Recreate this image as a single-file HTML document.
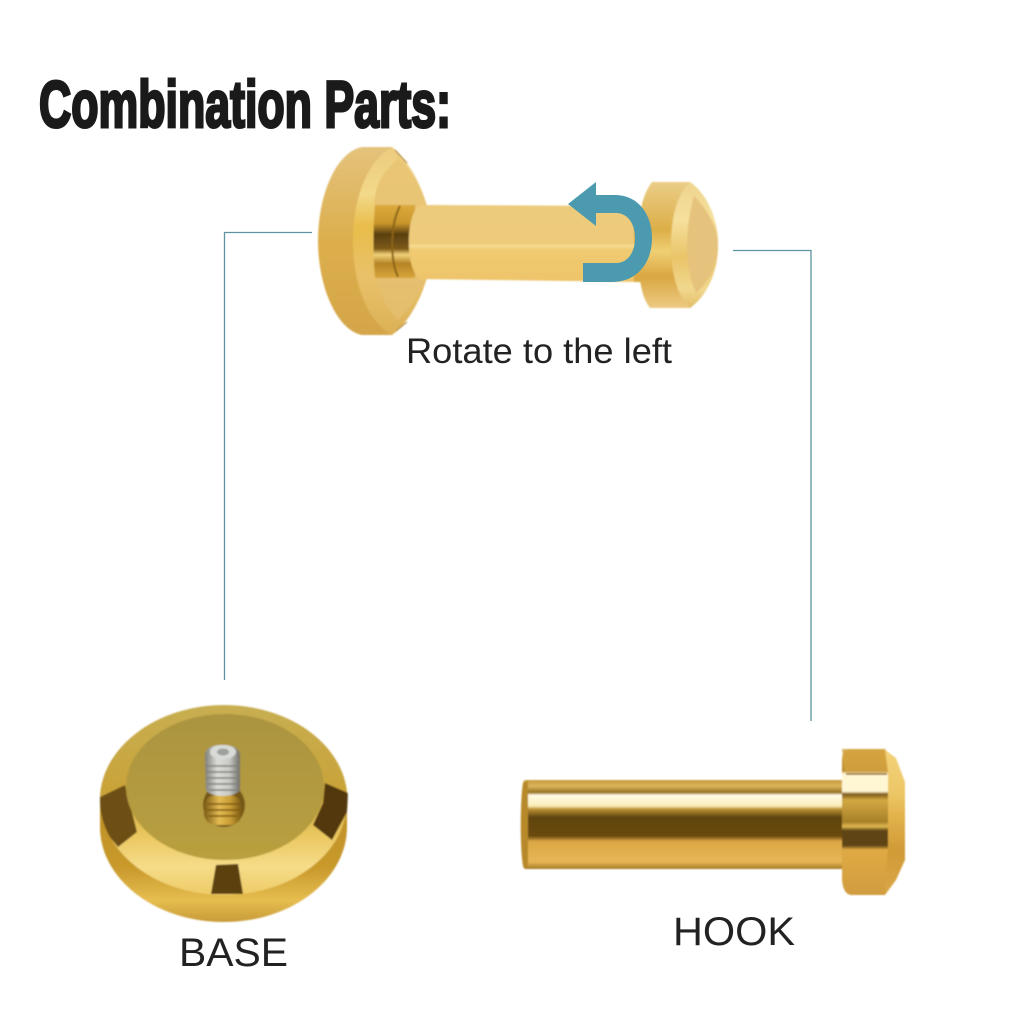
<!DOCTYPE html>
<html><head><meta charset="utf-8"><style>html,body{margin:0;padding:0;background:#fff}svg{display:block}</style></head><body>
<svg xmlns="http://www.w3.org/2000/svg" width="1024" height="1024" viewBox="0 0 1024 1024">
<defs>
<filter id="b1" x="-20%" y="-20%" width="140%" height="140%"><feGaussianBlur stdDeviation="0.8"/></filter>
<filter id="b3" x="-30%" y="-30%" width="160%" height="160%"><feGaussianBlur stdDeviation="3"/></filter>
<linearGradient id="hookShaft" x1="0" y1="0" x2="0" y2="1">
<stop offset="0" stop-color="#c69a3c"/><stop offset=".07" stop-color="#dcb45c"/><stop offset=".14" stop-color="#94701f"/><stop offset=".17" stop-color="#fffbe6"/><stop offset=".29" stop-color="#fbeeb8"/><stop offset=".33" stop-color="#b98f30"/><stop offset=".42" stop-color="#5f4411"/><stop offset=".63" stop-color="#6a4a10"/><stop offset=".69" stop-color="#dca845"/><stop offset=".92" stop-color="#e6b655"/><stop offset="1" stop-color="#a67a26"/>
</linearGradient>
<linearGradient id="hookHead" x1="0" y1="0" x2="0" y2="1">
<stop offset="0" stop-color="#e0b04a"/><stop offset=".15" stop-color="#b9892c"/><stop offset=".17" stop-color="#fff6d4"/><stop offset=".29" stop-color="#fff6d4"/><stop offset=".31" stop-color="#7d5b17"/><stop offset=".35" stop-color="#d3a842"/><stop offset=".5" stop-color="#a67f28"/><stop offset=".53" stop-color="#e0b850"/><stop offset=".56" stop-color="#5e4412"/><stop offset=".66" stop-color="#5e4412"/><stop offset=".69" stop-color="#e0aa44"/><stop offset="1" stop-color="#d09c3e"/>
</linearGradient>
<linearGradient id="hookCap" x1="0" y1="0" x2="0" y2="1">
<stop offset="0" stop-color="#f4d27a"/><stop offset=".3" stop-color="#edc766"/><stop offset=".45" stop-color="#e2b34c"/><stop offset=".7" stop-color="#d09a36"/><stop offset="1" stop-color="#dba748"/>
</linearGradient>
<linearGradient id="topShaft" x1="0" y1="0" x2="0" y2="1">
<stop offset="0" stop-color="#eccb7c"/><stop offset=".5" stop-color="#eecb7a"/><stop offset=".53" stop-color="#f6dc94"/><stop offset=".58" stop-color="#f0ca70"/><stop offset="1" stop-color="#eec46a"/>
</linearGradient>
<linearGradient id="neck" x1="0" y1="0" x2="0" y2="1">
<stop offset="0" stop-color="#dca93c"/><stop offset=".25" stop-color="#c9962c"/><stop offset=".4" stop-color="#5a3f10"/><stop offset=".6" stop-color="#7d5a16"/><stop offset=".68" stop-color="#f2d27c"/><stop offset=".8" stop-color="#b58424"/><stop offset="1" stop-color="#d9a63c"/>
</linearGradient>
<linearGradient id="discBack" x1="0" y1="0" x2="0" y2="1">
<stop offset="0" stop-color="#e4c27c"/><stop offset=".5" stop-color="#dcae4c"/><stop offset="1" stop-color="#d4a548"/>
</linearGradient>
<linearGradient id="discBevel" x1="0" y1="0" x2="0" y2="1">
<stop offset="0" stop-color="#eccb7e"/><stop offset=".25" stop-color="#f3d98a"/><stop offset=".42" stop-color="#e9bd4a"/><stop offset=".7" stop-color="#e8c16a"/><stop offset="1" stop-color="#dcb055"/>
</linearGradient>
<linearGradient id="discFace" x1="0" y1="0" x2="0" y2="1">
<stop offset="0" stop-color="#e9c676"/><stop offset="1" stop-color="#e4bd6c"/>
</linearGradient>
<linearGradient id="headSide" x1="0" y1="0" x2="0" y2="1">
<stop offset="0" stop-color="#eacd86"/><stop offset=".38" stop-color="#dcae48"/><stop offset=".55" stop-color="#efcf74"/><stop offset=".75" stop-color="#d9a741"/><stop offset="1" stop-color="#ecca84"/>
</linearGradient>
<linearGradient id="headBevel" x1="0" y1="0" x2="0" y2="1">
<stop offset="0" stop-color="#eed48e"/><stop offset=".3" stop-color="#f6e09c"/><stop offset=".6" stop-color="#e9c468"/><stop offset=".85" stop-color="#f1d88e"/><stop offset="1" stop-color="#e3bc66"/>
</linearGradient>
<linearGradient id="baseWall" x1="0" y1="0" x2="0" y2="1">
<stop offset="0" stop-color="#a87d1c"/><stop offset=".75" stop-color="#c99a2c"/><stop offset=".9" stop-color="#e6bd50"/><stop offset="1" stop-color="#c79a36"/>
</linearGradient>
<linearGradient id="baseRing" x1="0" y1="0" x2="0" y2="1">
<stop offset="0" stop-color="#c8ae52"/><stop offset=".45" stop-color="#c9a338"/><stop offset=".68" stop-color="#e9c65e"/><stop offset=".85" stop-color="#f6dc88"/><stop offset="1" stop-color="#eecb66"/>
</linearGradient>
<linearGradient id="baseFace" x1="0" y1="0" x2="0" y2="1">
<stop offset="0" stop-color="#ab9440"/><stop offset="1" stop-color="#b99f3e"/>
</linearGradient>
<linearGradient id="screw" x1="0" y1="0" x2="1" y2="0">
<stop offset="0" stop-color="#7e7f7a"/><stop offset=".35" stop-color="#dcdcd8"/><stop offset=".7" stop-color="#c9cac6"/><stop offset="1" stop-color="#6e6e68"/>
</linearGradient>
<linearGradient id="screwGold" x1="0" y1="0" x2="1" y2="0">
<stop offset="0" stop-color="#7a5a14"/><stop offset=".4" stop-color="#e5bb52"/><stop offset=".7" stop-color="#c79b34"/><stop offset="1" stop-color="#75560f"/>
</linearGradient>
<clipPath id="ringClip"><ellipse cx="224" cy="800" rx="124" ry="95"/></clipPath>
</defs>
<rect width="1024" height="1024" fill="#fff"/>

<!-- Title -->
<text x="39" y="127" font-family="'Liberation Sans',sans-serif" font-weight="700" font-size="66" fill="#1a1a1a" stroke="#1a1a1a" stroke-width="3" textLength="412" lengthAdjust="spacingAndGlyphs">Combination Parts:</text>

<!-- Connectors -->
<path d="M312 232.5H224.5V680" fill="none" stroke="#5f939f" stroke-width="1.3"/>
<path d="M733 250.5H811V721" fill="none" stroke="#5f939f" stroke-width="1.3"/>

<!-- Assembled hook: base disc -->
<g filter="url(#b1)">
<path d="M362 147 L392 147 C414 165 432 205 432 241 C432 280 414 318 392 335 L362 335 C336 330 318 285 318 241 C318 195 336 152 362 147Z" fill="url(#discBack)"/>
<path d="M392 147 C414 165 432 205 432 241 C432 280 414 318 392 335 C368 322 353 285 353 241 C353 197 368 160 392 147Z" fill="url(#discBevel)"/>
<path d="M385 172 C372 190 374 205 375 241 C375 285 380 300 398 320 C415 305 432 275 432 241 C432 205 415 170 398 158Z" fill="url(#discFace)"/>
<path d="M395 150 L407 163" stroke="#a87c2c" stroke-width="1"/>
<path d="M396 331 L407 322" stroke="#a87c2c" stroke-width="1"/>
<path d="M375 205 H415 V278 H375 C373 255 373 230 375 205Z" fill="url(#neck)"/>
<path d="M400 206 C390 225 390 260 398 277" stroke="#8a6416" stroke-width="2" fill="none"/>
<!-- shaft -->
<path d="M420 205 L640 206 L640 282 L420 279 C405 270 405 214 420 205Z" fill="url(#topShaft)"/>
<!-- pin neck to head -->
<path d="M634 213 H670 V282 H634Z" fill="#d9aa42"/>
<path d="M634 213 H670 V222 H634Z" fill="#a97e20"/>
<path d="M634 244 H670 V252 H634Z" fill="#f0d27e"/>
<!-- head -->
<path d="M652 182 L690 182 C708 195 718 220 718 245 C718 270 708 295 690 308 L650 308 C642 298 638 280 638 245 C638 215 642 195 652 182Z" fill="url(#headSide)"/>
<path d="M690 182 C708 195 718 220 718 245 C718 270 708 295 690 308 C676 295 671 270 671 245 C671 220 676 195 690 182Z" fill="url(#headBevel)"/>
<path d="M694 196 C708 210 718 228 718 245 C718 265 708 283 696 293 C690 280 687 262 687 245 C687 228 690 210 694 196Z" fill="#e6c37c"/>
</g>
<!-- teal arrow -->
<path d="M568 204 L596 182 L596 195 L615 195 C638 195 652 214 652 238 C652 264 636 282 612 282 L583 282 L583 263 L616 263 C628 263 635 252 635 238 C635 224 628 213 616 213 L596 213 L596 226Z" fill="#4b9ab0"/>

<text x="406" y="363" font-family="'Liberation Sans',sans-serif" font-size="35" fill="#222" textLength="266" lengthAdjust="spacingAndGlyphs">Rotate to the left</text>

<!-- Base part -->
<g filter="url(#b1)">
<path d="M100 800 C100 748 155 706 224 706 C292 706 347 748 347 800 L347 827 C347 879 292 922 224 922 C155 922 100 879 100 827Z" fill="url(#baseWall)"/>
<ellipse cx="224" cy="800" rx="123.5" ry="95" fill="url(#baseRing)"/>
<g clip-path="url(#ringClip)">
<path d="M100 797 L125 785 L137 832 L118 847 L100 825Z" fill="#6d4f12"/>
<path d="M325 783 L348 793 L347 812 L332 840 L313 825 L323 803Z" fill="#52390c"/>
<path d="M216 865 L238 864 L243 894 L211 894Z" fill="#5b4010"/>
</g>
<ellipse cx="225" cy="787" rx="99" ry="73" fill="url(#baseFace)"/>
<ellipse cx="224" cy="805" rx="21" ry="22" fill="#6a4d10" opacity=".85"/>
<rect x="204" y="795" width="38" height="30" rx="12" fill="url(#screwGold)"/>
<g stroke="#7c5810" stroke-width="1.5"><path d="M207 804H240M207 810H239M209 816H237"/></g>
<path d="M205 756 C205 748 212 745 222 745 C233 745 240 748 240 756 L240 790 C236 798 210 798 206 790Z" fill="url(#screw)"/>
<ellipse cx="223" cy="752" rx="13" ry="7" fill="#d9dbd8"/>
<ellipse cx="223" cy="752" rx="6" ry="3.5" fill="#9ea09c"/>
<g stroke="#7f807b" stroke-width="1.6"><path d="M206 766H240M206 772H240M206 778H240M207 784H239M209 790H237"/></g>
</g>

<!-- Hook part -->
<g filter="url(#b1)">
<rect x="523" y="780" width="322" height="89" rx="3" fill="url(#hookShaft)"/>
<path d="M523 783 C520 800 520 850 523 866 L528 868 L528 781Z" fill="#b8892c"/>
<path d="M842 760 C842 752 846 749 852 749 L885 749 L905 782 L905 860 L885 895 L852 895 C846 895 843 890 842 880Z" fill="url(#hookHead)"/>
<path d="M884 749 L896 758 L905 782 L905 860 L896 880 L885 895 L888 845 L888 775Z" fill="url(#hookCap)"/>
<path d="M842 749 H885 L888 772 H845Z" fill="#d2a23e" opacity=".85"/>
<path d="M846 774 H887" stroke="#8a6418" stroke-width="1.4"/>
</g>

<text x="179" y="966" font-family="'Liberation Sans',sans-serif" font-size="40" fill="#222" textLength="109" lengthAdjust="spacingAndGlyphs">BASE</text>
<text x="673" y="945" font-family="'Liberation Sans',sans-serif" font-size="40" fill="#222" textLength="122" lengthAdjust="spacingAndGlyphs">HOOK</text>
</svg>
</body></html>
